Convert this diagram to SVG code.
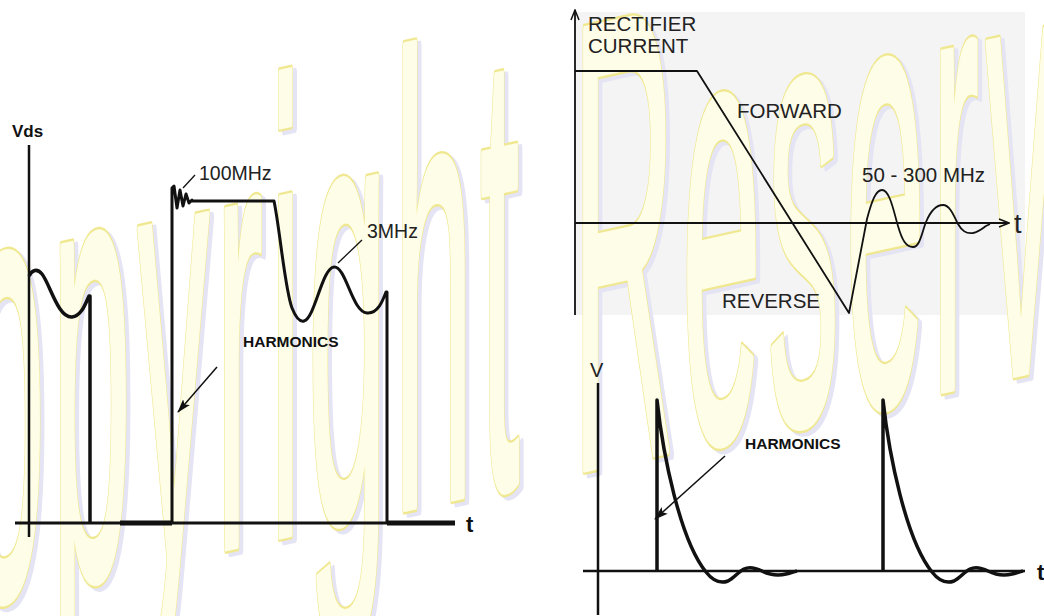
<svg xmlns="http://www.w3.org/2000/svg" width="1044" height="616" viewBox="0 0 1044 616">
<style>
  .ln { fill: none; stroke: #111; stroke-linecap: butt; stroke-linejoin: round; }
  .lbl { font-family: "Liberation Sans", Arial, sans-serif; fill: #222; }
  .bold { font-weight: bold; fill: #111; }
  .wm { font-family: "Liberation Sans", Arial, sans-serif; font-size: 100px; letter-spacing: 4.5px; stroke-linejoin: round; }
</style>
<defs>
  <marker id="ah" markerUnits="userSpaceOnUse" markerWidth="14" markerHeight="10" refX="13" refY="5" orient="auto">
    <path d="M0,0.5 L14,5 L0,9.5 L3,5 Z" fill="#111"/>
  </marker>
  <marker id="ao" markerUnits="userSpaceOnUse" markerWidth="12" markerHeight="10" refX="11" refY="5" orient="auto">
    <path d="M1,1 L11,5 L1,9" fill="none" stroke="#111" stroke-width="1.5"/>
  </marker>
</defs>
<rect width="1044" height="616" fill="#ffffff"/>
<rect x="575" y="12" width="450" height="303" fill="#f4f4f4"/>
<g id="watermark" class="wm">
  <text transform="matrix(1.43,-0.3146,0,6.4,-140,633)" fill="#e4e4f4" stroke="#e4e4f4" stroke-width="8" vector-effect="non-scaling-stroke">Copyright Reserved</text>
  <text transform="matrix(1.43,-0.3146,0,6.4,-144,629.7)" fill="#f0e890" stroke="#f0e890" stroke-width="8" vector-effect="non-scaling-stroke">Copyright Reserved</text>
  <text transform="matrix(1.43,-0.3146,0,6.4,-144,629.7)" fill="#fdfde8" stroke="#fdfde8" stroke-width="4.5" vector-effect="non-scaling-stroke">Copyright Reserved</text>
</g>
<g id="vds-panel">
  <text class="lbl bold" x="12" y="137" font-size="17">Vds</text>
  <line class="ln" x1="29" y1="145" x2="29" y2="537" stroke-width="2.5"/>
  <line class="ln" x1="15" y1="523" x2="455" y2="523" stroke-width="3"/>
  <line class="ln" x1="120" y1="523" x2="172" y2="523" stroke-width="5"/>
  <line class="ln" x1="387" y1="523" x2="455" y2="523" stroke-width="5"/>
  <path class="ln" stroke-width="3.5" d="M29,276 C32,270 37,268 42,274 C50,284 58,318 72,317 C82,316 86,302 89,296 L90,296 L90,523"/>
  <path class="ln" stroke-width="3" d="M172,523 L172,188 L174,186 L177,208 L180,190 L183,206 L186,194 L189,203 L192,200 L192,201 L274,201 C280,230 285,290 292,308 C296,318 300,322 304,321 C315,318 322,268 334,267 C346,266 352,312 367,313 C378,314 383,300 386,292 L387,292 L387,523"/>
  <line class="ln" x1="183" y1="188" x2="195" y2="175" stroke-width="1.3"/>
  <text class="lbl" x="199" y="180" font-size="19.5">100MHz</text>
  <line class="ln" x1="338" y1="263" x2="362" y2="240" stroke-width="1.3"/>
  <text class="lbl" x="367" y="238" font-size="19.5">3MHz</text>
  <text class="lbl bold" x="243" y="347" font-size="15.5">HARMONICS</text>
  <text class="lbl bold" x="466" y="532" font-size="22">t</text>
</g>
<g id="rectifier-panel">
  <text class="lbl" x="588" y="31" font-size="20.5">RECTIFIER</text>
  <text class="lbl" x="588" y="53" font-size="20.5">CURRENT</text>
  <text class="lbl" x="737" y="118" font-size="20.5">FORWARD</text>
  <text class="lbl" x="862" y="182" font-size="20.5">50 - 300 MHz</text>
  <text class="lbl" x="722" y="308" font-size="20.5">REVERSE</text>
  <text class="lbl" x="1014" y="233" font-size="27">t</text>
  <path class="ln" stroke-width="1.8" d="M575,71 L697,71 L849,313 L867,219 C872,200 876,190 882,190 C890,190 894,213 898,226 C902,240 906,247 913,247 C920,247 922,232 926,222 C931,210 936,205 943,205 C950,205 954,216 958,224 C962,231 966,234 973,233 C979,232 983,228 986,226 L990,224"/>
</g>
<g id="v-panel">
  <text class="lbl" x="590" y="377" font-size="20">V</text>
  <line class="ln" x1="598" y1="383" x2="598" y2="615" stroke-width="2.5"/>
  <line class="ln" x1="583" y1="571" x2="1025" y2="571" stroke-width="2.5"/>
  <text class="lbl bold" x="1037" y="580" font-size="22">t</text>
  <path class="ln" stroke-width="3.5" d="M657,571 L657,400 C663,455 680,540 706,572 C713,581 720,584 728,581 C734,578 738,572 744,569 C750,566 756,568 762,571 C770,575 778,576 786,574 C790,573 793,572 797,571"/>
  <path class="ln" stroke-width="3.5" d="M883,571 L883,400 C889,455 906,540 932,572 C939,581 946,584 954,581 C960,578 964,572 970,569 C976,566 982,568 988,571 C996,575 1004,576 1012,574 C1016,573 1019,572 1023,571"/>
  <text class="lbl bold" x="745" y="449" font-size="15.5">HARMONICS</text>
</g>
<g id="connectors">
  <line class="ln" x1="217" y1="367" x2="178" y2="412" stroke-width="1.5" marker-end="url(#ah)"/>
  <line class="ln" x1="725" y1="456" x2="655" y2="519" stroke-width="1.5" marker-end="url(#ah)"/>
  <line class="ln" x1="575" y1="315" x2="575" y2="10" stroke-width="1.8" marker-end="url(#ao)"/>
  <line class="ln" x1="575" y1="223" x2="1009" y2="223" stroke-width="1.8" marker-end="url(#ao)"/>
</g>
</svg>
